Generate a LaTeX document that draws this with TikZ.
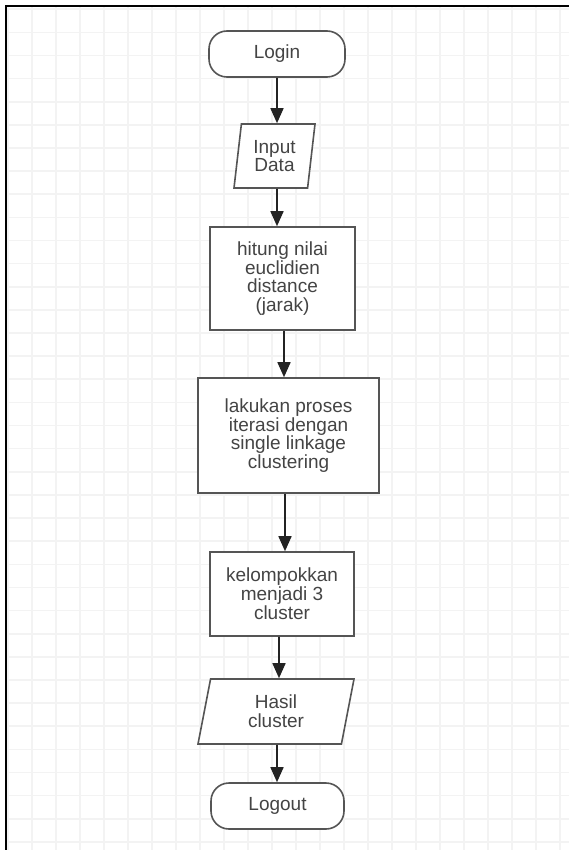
\documentclass[tikz,border=0pt]{standalone}
\usepackage{fontspec}
\setmainfont{Liberation Sans}
\usepackage{tikz}
\usetikzlibrary{shapes.geometric,arrows.meta}
\definecolor{gridgray}{RGB}{243,243,243}
\definecolor{boxgray}{RGB}{85,85,85}
\definecolor{textgray}{RGB}{68,68,68}
\definecolor{arrowgray}{RGB}{35,35,35}
\tikzset{
	gridline/.style={draw=gridgray, line width=1.6pt, xstep=24pt, ystep=23.13pt},
	frameline/.style={draw=black, line width=2pt},
	shapebase/.style={draw=boxgray, line width=1.6pt, fill=white, text=textgray, align=center, inner sep=0pt, font=\fontsize{19}{18.8}\selectfont},
	terminal/.style={shapebase, rounded corners=18pt, minimum height=46pt},
	process/.style={shapebase},
	io/.style={shapebase, trapezium, trapezium stretches body},
	flow/.style={draw=arrowgray, line width=1.6pt, -{Triangle[length=15pt,width=13pt]}}
}
\begin{document}
\begin{tikzpicture}[x=1pt,y=1pt]
				\useasboundingbox (0,0) rectangle (569,-850);
				\fill[white] (0,0) rectangle (569,-850);
				\begin{scope}
					\clip (6,-6) rectangle (569,-850);
					\draw[gridline, xshift=7.7pt, yshift=-9.2pt] (-10,10) grid (570,-850);
				\end{scope}
				\draw[frameline] (5.8,-850) -- (5.8,-5.8) -- (569,-5.8);
				\node[terminal, minimum width=136pt] (login) at (277,-54) {Login};
				\node[io, minimum width=81pt, minimum height=64pt, trapezium left angle=77, trapezium right angle=103] (input) at (274.5,-156) {Input\\Data};
				\node[process, minimum width=145pt, minimum height=103pt] (hitung) at (282.5,-278.5) {hitung nilai\\euclidien\\distance\\(jarak)};
				\node[process, minimum width=181pt, minimum height=115pt] (iterasi) at (288.5,-435.5) {lakukan proses\\iterasi dengan\\single linkage\\clustering};
				\node[process, minimum width=144pt, minimum height=84pt] (kelompok) at (282,-594) {kelompokkan\\menjadi 3\\cluster};
				\node[io, minimum width=156pt, minimum height=65pt, trapezium left angle=69, trapezium right angle=111] (hasil) at (276,-711.5) {Hasil\\cluster};
				\node[terminal, minimum width=133pt] (logout) at (277.5,-806) {Logout};
				\draw[flow] (login.south) -- ([xshift=2.5pt]input.north);
				\draw[flow] ([xshift=2.5pt]input.south) -- ([xshift=-5.5pt]hitung.north);
				\draw[flow] ([xshift=1.5pt]hitung.south) -- ([xshift=-4.5pt]iterasi.north);
				\draw[flow] ([xshift=-3.5pt]iterasi.south) -- ([xshift=3pt]kelompok.north);
				\draw[flow] ([xshift=-3pt]kelompok.south) -- ([xshift=3pt]hasil.north);
				\draw[flow] ([xshift=1pt]hasil.south) -- ([xshift=-0.5pt]logout.north);
			\end{tikzpicture}
\end{document}
